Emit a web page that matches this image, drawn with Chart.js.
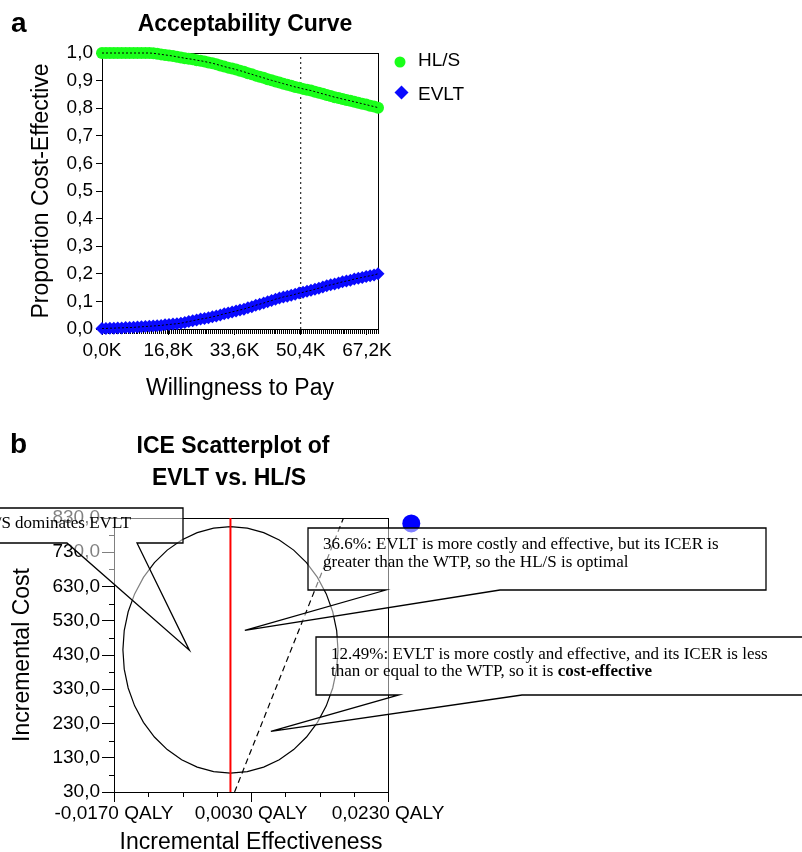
<!DOCTYPE html>
<html>
<head>
<meta charset="utf-8">
<script src="https://cdn.jsdelivr.net/npm/chart.js@4.4.0/dist/chart.umd.min.js"></script>
<style>
    html, body { margin: 0; padding: 0; background: #fff; }
    body { width: 802px; height: 852px; position: relative; overflow: hidden; }
    canvas { position: absolute; left: 0; }
    #accCanvas { top: 0; }
    #iceCanvas { top: 410px; }
</style>
</head>
<body>
<canvas id="accCanvas" width="490" height="410"></canvas>
<canvas id="iceCanvas" width="802" height="446"></canvas>
<script>
// ---- panel a: acceptability curve ----
const wtpK = [0, 1, 2, 3, 4, 5, 6, 7, 8, 9, 10, 11, 12, 13, 14, 15, 16, 17, 18, 19,
    20, 21, 22, 23, 24, 25, 26, 27, 28, 29, 30, 31, 32, 33, 34, 35, 36, 37, 38, 39,
    40, 41, 42, 43, 44, 45, 46, 47, 48, 49, 50, 51, 52, 53, 54, 55, 56, 57, 58, 59,
    60, 61, 62, 63, 64, 65, 66, 67, 68, 69, 70];
const hlsProb = [1.000, 1.000, 1.000, 1.000, 1.000, 1.000, 1.000, 1.000, 1.000, 1.000,
    1.000, 1.000, 1.000, 0.999, 0.997, 0.995, 0.993, 0.991, 0.989, 0.986,
    0.984, 0.981, 0.979, 0.977, 0.974, 0.972, 0.969, 0.966, 0.963, 0.959,
    0.955, 0.951, 0.947, 0.944, 0.940, 0.936, 0.932, 0.927, 0.923, 0.918,
    0.914, 0.910, 0.905, 0.901, 0.897, 0.893, 0.889, 0.885, 0.881, 0.877,
    0.874, 0.870, 0.867, 0.864, 0.860, 0.856, 0.852, 0.848, 0.844, 0.840,
    0.837, 0.833, 0.830, 0.827, 0.823, 0.820, 0.816, 0.813, 0.809, 0.806, 0.802];
const evltProb = [0.002, 0.002, 0.003, 0.003, 0.004, 0.004, 0.005, 0.005, 0.006, 0.007,
    0.008, 0.009, 0.010, 0.011, 0.012, 0.013, 0.015, 0.016, 0.018, 0.019,
    0.021, 0.024, 0.027, 0.030, 0.033, 0.036, 0.038, 0.041, 0.044, 0.047,
    0.051, 0.055, 0.058, 0.062, 0.065, 0.069, 0.072, 0.077, 0.081, 0.086,
    0.090, 0.094, 0.099, 0.103, 0.108, 0.112, 0.116, 0.119, 0.122, 0.126,
    0.130, 0.133, 0.137, 0.140, 0.144, 0.148, 0.152, 0.157, 0.160, 0.163,
    0.167, 0.171, 0.174, 0.177, 0.181, 0.184, 0.187, 0.190, 0.193, 0.196, 0.200];
const wtpMarkK = [0, 16.8, 33.6, 50.4, 67.2];
const wtpMinorStep = 500;
const wtpThreshold = 50400;
const probTicks = [0, 0.1, 0.2, 0.3, 0.4, 0.5, 0.6, 0.7, 0.8, 0.9, 1.0];

// ---- panel b: ICE scatterplot ----
const costTicks = [30, 130, 230, 330, 430, 530, 630, 730, 830];
const costMinor = [80, 180, 280, 380, 480, 580, 680, 780];
const effTicks = [-0.017, 0.003, 0.023];
const effMinor = [-0.012, -0.007, -0.002, 0.008, 0.013, 0.018];
const ellipseCenter = [0.0, 445];
const ellipseRadius = [0.0157, 360];
const zeroLine = [[0, 30], [0, 830]];
const wtpLine = [[0.0006, 30], [0.0165, 830]];
const outsidePoint = [0.0264, 814];
const calloutTips = [[-0.006, 444], [0.0021, 502], [0.0059, 207]];
const calloutLines = [
    [[['HL/S dominates EVLT', false]]],
    [[['36.6%: EVLT is more costly and effective, but its ICER is', false]],
     [['greater than the WTP, so the HL/S is optimal', false]]],
    [[['12.49%: EVLT is more costly and effective, and its ICER is less', false]],
     [['than or equal to the WTP, so it is ', false], ['cost-effective', true]]]
];

const sansFont = "'Liberation Sans', Arial, sans-serif";
const serifFont = "'Liberation Serif', 'Times New Roman', serif";
Chart.defaults.font.family = sansFont;
Chart.defaults.color = '#000';

const toXY = (xs, ys) => xs.map((v, i) => ({ x: v * 1000, y: ys[i] }));
const toPts = (pairs) => pairs.map(p => ({ x: p[0], y: p[1] }));
const crisp = v => Math.round(v) + 0.5;

const axisGrid = (len) => ({
    display: true, drawOnChartArea: false, drawTicks: true,
    tickLength: len, color: '#000', lineWidth: 1
});
const axisBorder = { display: true, color: '#000', width: 1 };

const accDecor = {
    id: 'accDecor',
    beforeDatasetsDraw(chart) {
        const { ctx, chartArea: a, scales: { x } } = chart;
        ctx.save();
        ctx.strokeStyle = '#000';
        ctx.lineWidth = 1;
        ctx.strokeRect(crisp(a.left), crisp(a.top), Math.round(a.right - a.left), Math.round(a.bottom - a.top));
        ctx.beginPath();
        for (let v = 0; v <= x.max; v += wtpMinorStep) {
            const px = crisp(x.getPixelForValue(v));
            ctx.moveTo(px, a.bottom);
            ctx.lineTo(px, a.bottom + 5);
        }
        ctx.stroke();
        ctx.restore();
    },
    afterDraw(chart) {
        const { ctx } = chart;
        ctx.save();
        ctx.fillStyle = '#000';
        ctx.textBaseline = 'alphabetic';
        ctx.textAlign = 'left';
        ctx.font = 'bold 28px ' + sansFont;
        ctx.fillText('a', 11, 32);
        ctx.textAlign = 'center';
        ctx.font = 'bold 23px ' + sansFont;
        ctx.fillText('Acceptability Curve', 245, 31);

        // legend
        const rows = [{ mx: 400, my: 62, r: 5.5, ty: 61 }, { mx: 401.5, my: 92.5, r: 7, ty: 95 }];
        ctx.font = '19px ' + sansFont;
        ctx.textAlign = 'left';
        ctx.textBaseline = 'middle';
        chart.data.datasets.filter(d => d.inLegend).forEach((d, i) => {
            const row = rows[i];
            ctx.fillStyle = d.backgroundColor;
            Chart.helpers.drawPoint(ctx, { pointStyle: d.pointStyle, radius: row.r, rotation: 0, borderWidth: 0 }, row.mx, row.my);
            ctx.fillStyle = '#000';
            ctx.fillText(d.label, 418, row.ty);
        });
        ctx.restore();
    }
};

new Chart(document.getElementById('accCanvas'), {
    type: 'scatter',
    data: {
        datasets: [
            { label: 'hls-line', data: toXY(wtpK, hlsProb), showLine: true, pointRadius: 0,
              borderColor: '#000', borderWidth: 1, borderDash: [2, 2], clip: false, order: 0 },
            { label: 'evlt-line', data: toXY(wtpK, evltProb), showLine: true, pointRadius: 0,
              borderColor: '#000', borderWidth: 1, borderDash: [2, 2], clip: false, order: 0 },
            { label: 'HL/S', inLegend: true, data: toXY(wtpK, hlsProb), showLine: false,
              pointStyle: 'circle', pointRadius: 6, backgroundColor: '#1aff1a', borderWidth: 0,
              clip: false, order: 1 },
            { label: 'EVLT', inLegend: true, data: toXY(wtpK, evltProb), showLine: false,
              pointStyle: 'rectRot', pointRadius: 6.5, backgroundColor: '#0a0aff', borderWidth: 0,
              clip: false, order: 1 },
            { label: 'wtp', data: [{ x: wtpThreshold, y: 0 }, { x: wtpThreshold, y: 1 }], showLine: true,
              pointRadius: 0, borderColor: '#000', borderWidth: 1, borderDash: [2, 3], order: 2 }
        ]
    },
    options: {
        responsive: false,
        animation: false,
        events: [],
        layout: { padding: { left: 0, top: 53, right: 112, bottom: 0 } },
        plugins: { legend: { display: false }, tooltip: { enabled: false } },
        scales: {
            x: {
                type: 'linear', min: 0, max: 70000,
                afterBuildTicks: s => { s.ticks = wtpMarkK.map(v => ({ value: Math.round(v * 1000) })); },
                afterFit: s => { s.height = 81; },
                ticks: {
                    font: { size: 19 }, padding: 4, maxRotation: 0, autoSkip: false,
                    callback: v => (v / 1000).toFixed(1).replace('.', ',') + 'K'
                },
                grid: axisGrid(6), border: axisBorder,
                title: { display: true, text: 'Willingness to Pay', font: { size: 23 }, padding: { top: 0, bottom: 8 } }
            },
            y: {
                type: 'linear', min: 0, max: 1,
                afterBuildTicks: s => { s.ticks = probTicks.map(v => ({ value: v })); },
                afterFit: s => { s.width = 102; },
                ticks: { font: { size: 19 }, padding: 3, callback: v => v.toFixed(1).replace('.', ',') },
                grid: axisGrid(6), border: axisBorder,
                title: { display: true, text: 'Proportion Cost-Effective', font: { size: 23 }, padding: { top: 28, bottom: 0 } }
            }
        }
    },
    plugins: [accDecor]
});

// callout boxes, in canvas pixels of panel b
const calloutBoxes = [
    { l: -40, t: 98, r: 183, b: 133, base: [67, 137], tx: -26, lines: [118] },
    { l: 308, t: 118, r: 766, b: 180, base: [386, 500], tx: 323, lines: [139, 156.5] },
    { l: 316, t: 227, r: 830, b: 285, base: [399, 522], tx: 331, lines: [249, 266] }
];

const iceDecor = {
    id: 'iceDecor',
    beforeDatasetsDraw(chart) {
        const { ctx, chartArea: a, scales: { x, y } } = chart;
        ctx.save();
        ctx.strokeStyle = '#000';
        ctx.lineWidth = 1;
        ctx.strokeRect(crisp(a.left), crisp(a.top), Math.round(a.right - a.left), Math.round(a.bottom - a.top));
        ctx.beginPath();
        costMinor.forEach(v => {
            const py = crisp(y.getPixelForValue(v));
            ctx.moveTo(a.left - 5, py);
            ctx.lineTo(a.left, py);
        });
        effMinor.forEach(v => {
            const px = crisp(x.getPixelForValue(v));
            ctx.moveTo(px, a.bottom);
            ctx.lineTo(px, a.bottom + 5);
        });
        ctx.stroke();

        // confidence ellipse
        const [cx, cy] = ellipseCenter;
        const [rx, ry] = ellipseRadius;
        const segs = 40;
        ctx.lineWidth = 1.2;
        ctx.beginPath();
        for (let i = 0; i <= segs; i++) {
            const t = (i / segs) * Math.PI * 2;
            const px = x.getPixelForValue(cx + rx * Math.cos(t));
            const py = y.getPixelForValue(cy + ry * Math.sin(t));
            if (i === 0) ctx.moveTo(px, py); else ctx.lineTo(px, py);
        }
        ctx.stroke();
        ctx.restore();
    },
    afterDatasetsDraw(chart) {
        // the one marker that falls outside the plot box
        const { ctx, scales: { x, y } } = chart;
        ctx.save();
        ctx.fillStyle = '#0000ff';
        Chart.helpers.drawPoint(ctx, { pointStyle: 'circle', radius: 9, rotation: 0, borderWidth: 0 },
            x.getPixelForValue(outsidePoint[0]), y.getPixelForValue(outsidePoint[1]));
        ctx.restore();
    },
    afterDraw(chart) {
        const { ctx, scales: { x, y } } = chart;
        ctx.save();
        calloutBoxes.forEach((bx, i) => {
            const tipX = x.getPixelForValue(calloutTips[i][0]);
            const tipY = y.getPixelForValue(calloutTips[i][1]);
            ctx.beginPath();
            ctx.moveTo(bx.l, bx.t);
            ctx.lineTo(bx.r, bx.t);
            ctx.lineTo(bx.r, bx.b);
            ctx.lineTo(bx.base[1], bx.b);
            ctx.lineTo(tipX, tipY);
            ctx.lineTo(bx.base[0], bx.b);
            ctx.lineTo(bx.l, bx.b);
            ctx.closePath();
            ctx.fillStyle = 'rgba(255,255,255,0.5)';
            ctx.fill();
            ctx.strokeStyle = '#000';
            ctx.lineWidth = 1.3;
            ctx.stroke();

            ctx.fillStyle = '#000';
            ctx.textAlign = 'left';
            ctx.textBaseline = 'alphabetic';
            calloutLines[i].forEach((parts, j) => {
                let cx = bx.tx;
                parts.forEach(([txt, bold]) => {
                    ctx.font = (bold ? 'bold ' : '') + '17px ' + serifFont;
                    ctx.fillText(txt, cx, bx.lines[j]);
                    cx += ctx.measureText(txt).width;
                });
            });
        });

        ctx.fillStyle = '#000';
        ctx.textBaseline = 'alphabetic';
        ctx.textAlign = 'left';
        ctx.font = 'bold 28px ' + sansFont;
        ctx.fillText('b', 10, 43);
        ctx.textAlign = 'center';
        ctx.font = 'bold 23px ' + sansFont;
        ctx.fillText('ICE Scatterplot of', 233, 43);
        ctx.fillText('EVLT vs. HL/S', 229, 75);
        ctx.restore();
    }
};

new Chart(document.getElementById('iceCanvas'), {
    type: 'scatter',
    data: {
        datasets: [
            { label: 'wtp', data: toPts(wtpLine), showLine: true, pointRadius: 0,
              borderColor: '#000', borderWidth: 1.2, borderDash: [6, 4], order: 1 },
            { label: 'zero', data: toPts(zeroLine), showLine: true, pointRadius: 0,
              borderColor: '#ff0000', borderWidth: 2, order: 2 }
        ]
    },
    options: {
        responsive: false,
        animation: false,
        events: [],
        layout: { padding: { left: 0, top: 108, right: 414, bottom: 0 } },
        plugins: { legend: { display: false }, tooltip: { enabled: false } },
        scales: {
            x: {
                type: 'linear', min: -0.017, max: 0.023,
                afterBuildTicks: s => { s.ticks = effTicks.map(v => ({ value: v })); },
                afterFit: s => { s.height = 64; },
                ticks: {
                    font: { size: 19 }, padding: 0, maxRotation: 0, autoSkip: false,
                    callback: v => v.toFixed(4).replace('.', ',') + ' QALY'
                },
                grid: axisGrid(10), border: axisBorder,
                title: { display: true, text: 'Incremental Effectiveness', font: { size: 23 }, padding: { top: 0, bottom: 0 } }
            },
            y: {
                type: 'linear', min: 30, max: 830,
                afterBuildTicks: s => { s.ticks = costTicks.map(v => ({ value: v })); },
                afterFit: s => { s.width = 114; },
                ticks: { font: { size: 19 }, padding: 2, callback: v => v.toFixed(1).replace('.', ',') },
                grid: axisGrid(12), border: axisBorder,
                title: { display: true, text: 'Incremental Cost', font: { size: 23 }, padding: { top: 9, bottom: 0 } }
            }
        }
    },
    plugins: [iceDecor]
});
</script>
</body>
</html>
